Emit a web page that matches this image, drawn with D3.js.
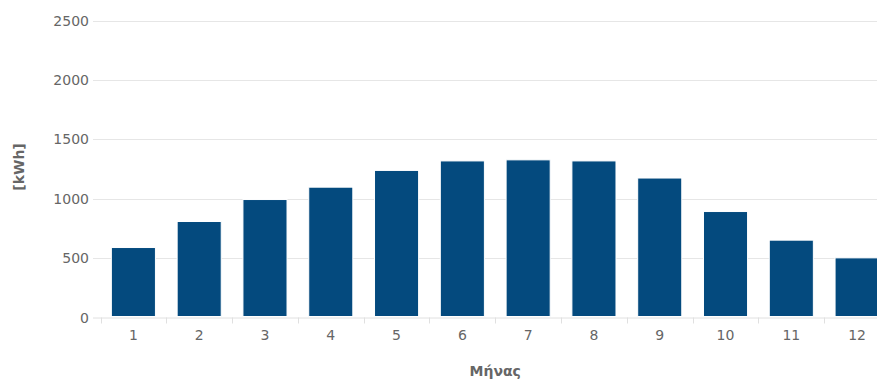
<!DOCTYPE html>
<html><head><meta charset="utf-8">
<script src="https://cdn.jsdelivr.net/npm/d3@7"></script>
<style>body{margin:0;background:#fff}svg{display:block}text{font-family:"DejaVu Sans",Verdana,sans-serif}</style>
</head><body>
<svg id="c" width="877" height="379"></svg>
<script>
const months = ["1","2","3","4","5","6","7","8","9","10","11","12"];
const energy = [589, 808, 993, 1097, 1238, 1318, 1327, 1318, 1174, 892, 651, 502];
const yTicks = [0, 500, 1000, 1500, 2000, 2500];
const yTitle = "[kWh]";
const xTitle = "Μήνας";

(function () {
const svg = d3.select("#c");
const left = 100.5, right = 890, topY = 20.5, bottom = 317.5;
const x = d3.scaleBand().domain(months).range([left, right]).paddingInner(0.33).paddingOuter(0.165);
const xb = d3.scaleBand().domain(months).range([left, right]);
const y = d3.scaleLinear().domain([0, 2500]).range([bottom, topY]);

// gridlines
svg.append("g").selectAll("line").data(yTicks.filter(d => d > 0)).join("line")
  .attr("x1", 93).attr("x2", 877)
  .attr("y1", d => Math.round(y(d)) + 0.5).attr("y2", d => Math.round(y(d)) + 0.5)
  .attr("stroke", "#e6e6e6").attr("stroke-width", 1);

// y labels
svg.append("g").selectAll("text").data(yTicks).join("text")
  .attr("x", 89).attr("y", d => y(d) + 5)
  .attr("text-anchor", "end").attr("font-size", 14).attr("fill", "#666")
  .text(d => d);

// bars
svg.append("g").selectAll("rect").data(energy).join("rect")
  .attr("x", (d, i) => x(months[i]))
  .attr("y", d => y(d))
  .attr("width", x.bandwidth())
  .attr("height", d => bottom - 1 - y(d))
  .attr("fill", "#044a7e")
  .attr("stroke", "#ffffff").attr("stroke-width", 1);

// x axis line
svg.append("line").attr("x1", 93).attr("x2", 877)
  .attr("y1", bottom + 0.5).attr("y2", bottom + 0.5)
  .attr("stroke", "#e0e0e0");

// x ticks at band boundaries
const bounds = months.map(m => xb(m)).concat([xb(months[11]) + xb.bandwidth()]);
svg.append("g").selectAll("line").data(bounds).join("line")
  .attr("x1", d => Math.round(d) + 0.5).attr("x2", d => Math.round(d) + 0.5)
  .attr("y1", bottom).attr("y2", bottom + 6)
  .attr("stroke", "#e0e0e0");

// x labels
svg.append("g").selectAll("text").data(months).join("text")
  .attr("x", d => xb(d) + xb.bandwidth() / 2).attr("y", 339.5)
  .attr("text-anchor", "middle").attr("font-size", 14).attr("fill", "#666")
  .text(d => d);

// titles
svg.append("text").attr("x", xb(months[5]) + xb.bandwidth()).attr("y", 376)
  .attr("text-anchor", "middle").attr("font-size", 14).attr("font-weight", "bold").attr("fill", "#666")
  .text(xTitle);
svg.append("text").attr("transform", "translate(24,167) rotate(-90)")
  .attr("text-anchor", "middle").attr("font-size", 14).attr("font-weight", "bold").attr("fill", "#666")
  .text(yTitle);
})();
</script>
</body></html>
